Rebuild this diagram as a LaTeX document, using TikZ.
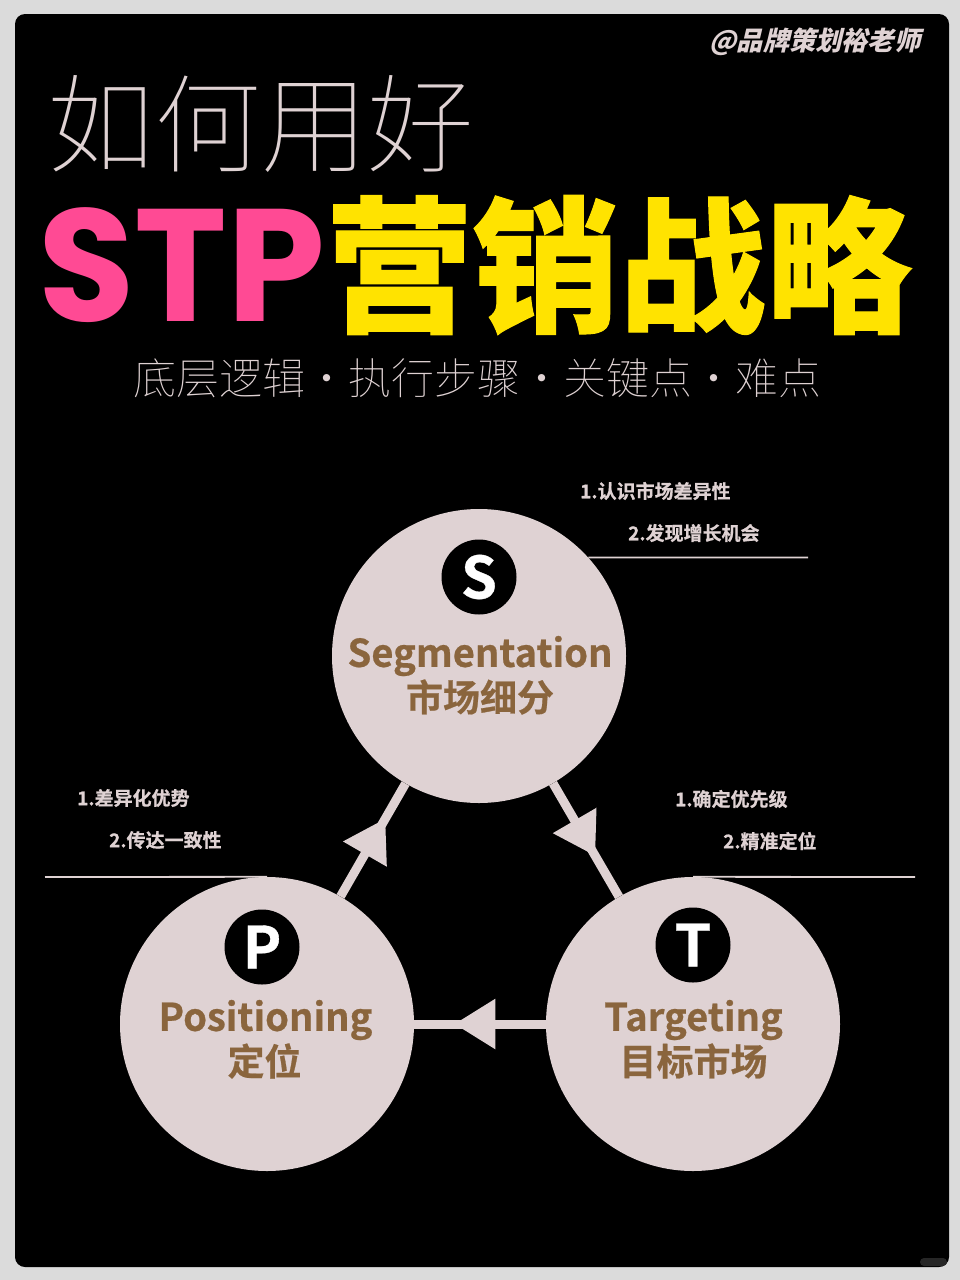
\documentclass[tikz,border=0pt]{standalone}
\usepackage{fontspec}
\usetikzlibrary{arrows.meta,decorations.markings}
\setmainfont{Noto Sans CJK SC}[BoldFont={Noto Sans CJK SC Bold}]
\newfontfamily\cjkbold{Noto Sans CJK SC Bold}
\newfontfamily\cjkheavy{Noto Sans CJK SC Bold}[FakeBold=0.6]
\newfontfamily\cjkslant{Noto Sans CJK SC Black}[FakeSlant=0.24]
\newfontfamily\cjkthin{Noto Sans CJK SC Thin}
\newfontfamily\cjkblack{Noto Sans CJK SC Black}[FakeBold=0.7]
\newfontfamily\latinblack{Poppins Bold}
\definecolor{pagegrey}{HTML}{DBDBDB}
\definecolor{paleRose}{HTML}{DFD2D3}
\definecolor{brownText}{HTML}{8A653D}
\definecolor{pinkText}{HTML}{FF4A94}
\definecolor{yellowText}{HTML}{FFE300}
\definecolor{markGrey}{HTML}{262626}
\tikzset{
  bigcircle/.style={circle,fill=paleRose,minimum size=294pt,inner sep=0pt},
  badge/.style={circle,fill=black,minimum size=75pt,inner sep=0pt,text=white,font=\cjkheavy\fontsize{58}{58}\selectfont},
  engname/.style={text=brownText,inner sep=0pt,font=\cjkheavy\fontsize{38.2}{40}\selectfont},
  cnname/.style={text=brownText,inner sep=0pt,font=\cjkheavy\fontsize{37}{40}\selectfont},
  note/.style={text=paleRose,inner sep=0pt,anchor=west,font=\cjkheavy\fontsize{19}{20}\selectfont},
  rule/.style={draw=paleRose,line width=1.8pt},
  conn/.style={draw=paleRose,line width=9pt},
  midtip/.style={postaction={decorate,decoration={markings,mark=at position #1 with {\arrow[paleRose]{Triangle[length=41pt,width=48pt]}}}}}
}
\begin{document}
\begin{tikzpicture}[x=1pt,y=-1pt]
\useasboundingbox (0,0) rectangle (960,1280);
\fill[pagegrey] (0,0) rectangle (960,1280);
\fill[black,rounded corners=10pt] (15,14) rectangle (949,1267);
\fill[markGrey,rounded corners=4pt] (920,1258) rectangle (947,1266);
\node[inner sep=0pt,text=paleRose,font=\cjkslant\fontsize{26.2}{28}\selectfont] (handle) at (815,42) {@品牌策划裕老师};
\node[inner sep=0pt,text=paleRose,font=\cjkthin\fontsize{107}{110}\selectfont] (title1) at (261,123.5) {如何用好};
\node[inner sep=0pt,text=pinkText,font=\latinblack\fontsize{160}{160}\selectfont,xscale=0.98,transform shape] (stp) at (182,265) {STP};
\node[inner sep=0pt,text=yellowText,font=\cjkblack\fontsize{146.5}{150}\selectfont] (title2) at (619,265) {营销战略};
\node[inner sep=0pt,text=paleRose,font=\cjkthin\fontsize{43}{44}\selectfont] (subtitle) at (477,378) {底层逻辑・执行步骤・关键点・难点};

\node[bigcircle] (S) at (479,656) {};
\node[bigcircle] (T) at (693,1024) {};
\node[bigcircle] (P) at (267,1024) {};

\draw[conn,midtip=0.64] (S) -- (T);
\draw[conn,midtip=0.695] (T) -- (P);
\draw[conn,midtip=0.69] (P) -- (S);

\node[badge] (bs) at (479,577) {S};
\node[badge] (bt) at (693,945) {T};
\node[badge] (bp) at (262,947) {P};

\node[engname] (es) at (480,656) {Segmentation};
\node[cnname] (cs) at (480,697) {市场细分};
\node[engname] (et) at (693.5,1020) {Targeting};
\node[cnname] (ct) at (693.5,1061) {目标市场};
\node[engname] (ep) at (265.5,1020) {Positioning};
\node[cnname] (cp) at (264.5,1061) {定位};

\node[note] (n1) at (580,491) {1.认识市场差异性};
\node[note] (n2) at (628,533) {2.发现增长机会};
\node[note] (n3) at (675,799) {1.确定优先级};
\node[note] (n4) at (723,841) {2.精准定位};
\node[note] (n5) at (77,798) {1.差异化优势};
\node[note] (n6) at (109,840) {2.传达一致性};

\coordinate (sEnd) at (808,557.5);
\coordinate (tEnd) at (915,877);
\coordinate (pEnd) at (45,877);
\draw[rule] (S.42) -- (sEnd);
\draw[rule] (T.north) -- (tEnd);
\draw[rule] (P.north) -- (pEnd);
\end{tikzpicture}
\end{document}
